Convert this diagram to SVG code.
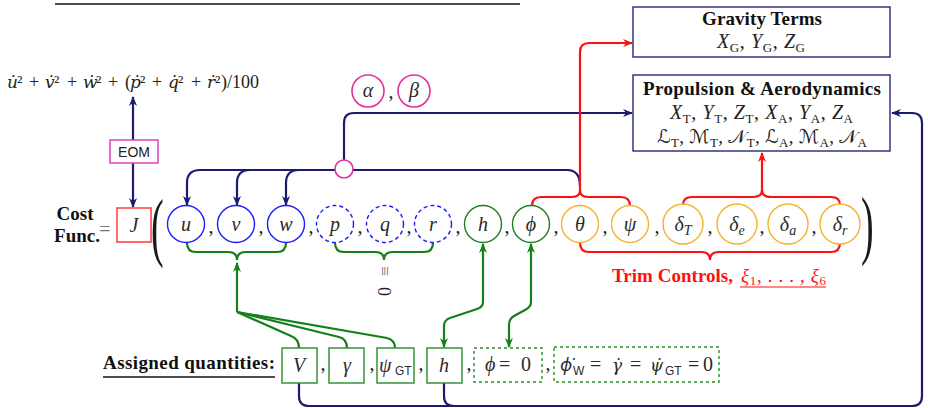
<svg xmlns="http://www.w3.org/2000/svg" width="928" height="408" viewBox="0 0 928 408">
  <style>
    .bg { fill: #ffffff; }
    .nv { stroke: #1c1c6e; stroke-width: 2.2; fill: none; }
    .rd { stroke: #ff1010; stroke-width: 2.2; fill: none; }
    .gr { stroke: #13801a; stroke-width: 2.2; fill: none; }
    .cb { stroke: #1a1aff; stroke-width: 1.4; fill: #ffffff; }
    .cbd { stroke: #1a1aff; stroke-width: 1.4; fill: #ffffff; stroke-dasharray: 4 3; }
    .cg { stroke: #1d7d1d; stroke-width: 1.4; fill: #ffffff; }
    .cy { stroke: #f3b32a; stroke-width: 1.4; fill: #ffffff; }
    .cm { stroke: #e0309c; stroke-width: 1.6; fill: #ffffff; }
    .bx { stroke: #262678; stroke-width: 1.4; fill: #ffffff; }
    .bg2 { stroke: #2a8a2a; stroke-width: 1.4; fill: #ffffff; }
    .bgd { stroke: #2a8a2a; stroke-width: 1.4; fill: #ffffff; stroke-dasharray: 3 3; }
    .serif { font-family: "Liberation Serif", "DejaVu Serif", serif; fill: #222222; }
    .math { font-family: "Liberation Serif", "DejaVu Serif", serif; font-style: italic; font-size: 20px; fill: #2a2a2a; }
    .bold { font-family: "Liberation Serif", "DejaVu Serif", serif; font-weight: bold; font-size: 19px; fill: #111111; }
    .it { font-style: italic; }
    .rm { font-style: normal; }
    .dv { font-family: "DejaVu Serif", serif; font-size: 17px; }
    .sub { font-style: normal; font-size: 13px; }
    .ssub { font-family: "Liberation Sans", "Open Sans", sans-serif; font-style: normal; font-size: 12px; }
    .cal { font-family: "DejaVu Serif", "DejaVu Sans", "Noto Sans", serif; font-style: normal; }
    .comma { font-family: "Liberation Serif", serif; font-size: 20px; fill: #222222; text-anchor: middle; }
  </style>
  <defs>
    <marker id="aN" viewBox="0 0 10 10" refX="9" refY="5" markerWidth="10" markerHeight="10" markerUnits="userSpaceOnUse" orient="auto-start-reverse">
      <path d="M0,1 L10,5 L0,9 L3,5 z" fill="#1c1c6e"/>
    </marker>
    <marker id="aR" viewBox="0 0 10 10" refX="9" refY="5" markerWidth="10" markerHeight="10" markerUnits="userSpaceOnUse" orient="auto-start-reverse">
      <path d="M0,1 L10,5 L0,9 L3,5 z" fill="#ff1010"/>
    </marker>
    <marker id="aG" viewBox="0 0 10 10" refX="9" refY="5" markerWidth="10" markerHeight="10" markerUnits="userSpaceOnUse" orient="auto-start-reverse">
      <path d="M0,1 L10,5 L0,9 L3,5 z" fill="#13801a"/>
    </marker>
  </defs>

  <rect class="bg" x="0" y="0" width="928" height="408"/>

  <!-- rule at the top -->
  <line x1="55" y1="4" x2="520" y2="4" stroke="#111111" stroke-width="1.4"/>

  <!-- cost expression from the equations of motion -->
  <g id="cost-expression" class="serif" font-size="18">
    <text y="88"><tspan class="it dv" x="7">u̇</tspan><tspan x="17">²</tspan><tspan x="29">+</tspan><tspan class="it dv" x="45">v̇</tspan><tspan x="54">²</tspan><tspan x="67">+</tspan><tspan class="it dv" x="83">ẇ</tspan><tspan x="96">²</tspan><tspan x="108">+</tspan><tspan x="125">(</tspan><tspan class="it dv" x="130">ṗ</tspan><tspan x="140">²</tspan><tspan x="152">+</tspan><tspan class="it dv" x="168">q̇</tspan><tspan x="178">²</tspan><tspan x="191">+</tspan><tspan class="it dv" x="207">ṙ</tspan><tspan x="215">²</tspan><tspan x="221">)/100</tspan></text>
  </g>

  <!-- connectors -->
  <g id="connectors">
    <!-- navy: EOM, alpha/beta junction, feedback -->
    <path class="nv" d="M133 140 V97" marker-end="url(#aN)"/>
    <path class="nv" d="M133 163 V207" marker-end="url(#aN)"/>
    <path class="nv" d="M336 170 H200 Q187 170 187 183 V205" marker-end="url(#aN)"/>
    <path class="nv" d="M250 170 Q237 170 237 183 V205" marker-end="url(#aN)"/>
    <path class="nv" d="M299 170 Q286 170 286 183 V205" marker-end="url(#aN)"/>
    <path class="nv" d="M353 170 H567 Q580 170 580 186"/>
    <path class="nv" d="M344 160 V123 Q344 113 354 113 H632" marker-end="url(#aN)"/>
    <path class="nv" d="M299 383 V396 Q299 406 309 406 H912 Q922 406 922 396 V123 Q922 113 912 113 H892" marker-end="url(#aN)"/>
    <path class="nv" d="M444 383 V396 Q444 406 454 406"/>

    <!-- red: Euler angles to gravity, controls to propulsion -->
    <path class="rd" d="M532 206 Q532 197 541 197 H572 Q580 197 580 190 Q580 197 588 197 H621 Q630 197 630 206"/>
    <path class="rd" d="M580 190 V52 Q580 43 589 43 H632" marker-end="url(#aR)"/>
    <path class="rd" d="M683 205 Q683 197 692 197 H753 Q762 197 762 190 Q762 197 771 197 H831 Q840 197 840 205"/>
    <path class="rd" d="M762 190 V153" marker-end="url(#aR)"/>
    <path class="rd" d="M580 243 Q580 252 589 252 H701 Q710 252 710 260 Q710 252 719 252 H831 Q840 252 840 243"/>

    <!-- green: braces and assigned quantities -->
    <path class="gr" d="M187 243 Q187 252 196 252 H228 Q237 252 237 260 Q237 252 246 252 H277 Q286 252 286 243"/>
    <path class="gr" d="M335 243 Q335 252 344 252 H375 Q384 252 384 260 Q384 252 393 252 H424 Q433 252 433 243"/>
    <path class="gr" d="M237 312 V263" marker-end="url(#aG)"/>
    <path class="gr" d="M237 312 L291 336 Q299 339 299 348"/>
    <path class="gr" d="M237 312 L339 337 Q347 339 347 348"/>
    <path class="gr" d="M237 312 L387 338 Q395 340 395 348"/>
    <path class="gr" d="M483 244 V302 Q483 307 477 309 L450 318 Q444 320 444 326 V347" marker-start="url(#aG)" marker-end="url(#aG)"/>
    <path class="gr" d="M531 244 V302 Q531 307 525 310 L514 316 Q509 319 509 325 V347" marker-start="url(#aG)" marker-end="url(#aG)"/>
  </g>

  <!-- force and moment boxes -->
  <g id="gravity-terms">
    <rect class="bx" x="633" y="7" width="257" height="50"/>
    <text class="bold" x="702" y="25" textLength="120">Gravity Terms</text>
    <text class="serif" x="717" y="48" font-size="20" textLength="88"><tspan class="it">X</tspan><tspan class="sub" dy="4">G</tspan><tspan dy="-4">, </tspan><tspan class="it">Y</tspan><tspan class="sub" dy="4">G</tspan><tspan dy="-4">, </tspan><tspan class="it">Z</tspan><tspan class="sub" dy="4">G</tspan></text>
  </g>

  <g id="propulsion-aerodynamics">
    <rect class="bx" x="633" y="75" width="257" height="76"/>
    <text class="bold" x="643" y="95" textLength="238">Propulsion &amp; Aerodynamics</text>
    <text class="serif" x="670" y="119" font-size="20" textLength="183"><tspan class="it">X</tspan><tspan class="sub" dy="4">T</tspan><tspan dy="-4">, </tspan><tspan class="it">Y</tspan><tspan class="sub" dy="4">T</tspan><tspan dy="-4">, </tspan><tspan class="it">Z</tspan><tspan class="sub" dy="4">T</tspan><tspan dy="-4">, </tspan><tspan class="it">X</tspan><tspan class="sub" dy="4">A</tspan><tspan dy="-4">, </tspan><tspan class="it">Y</tspan><tspan class="sub" dy="4">A</tspan><tspan dy="-4">, </tspan><tspan class="it">Z</tspan><tspan class="sub" dy="4">A</tspan></text>
    <text class="serif" x="657" y="143" font-size="19" textLength="210"><tspan class="cal">ℒ</tspan><tspan class="sub" dy="4">T</tspan><tspan dy="-4">, </tspan><tspan class="cal">ℳ</tspan><tspan class="sub" dy="4">T</tspan><tspan dy="-4">, </tspan><tspan class="cal">𝒩</tspan><tspan class="sub" dy="4">T</tspan><tspan dy="-4">, </tspan><tspan class="cal">ℒ</tspan><tspan class="sub" dy="4">A</tspan><tspan dy="-4">, </tspan><tspan class="cal">ℳ</tspan><tspan class="sub" dy="4">A</tspan><tspan dy="-4">, </tspan><tspan class="cal">𝒩</tspan><tspan class="sub" dy="4">A</tspan></text>
  </g>

  <!-- EOM and cost function -->
  <g id="eom">
    <rect x="110" y="140" width="48" height="23" fill="#ffffff" stroke="#e040c0" stroke-width="1.5"/>
    <text x="134" y="157" text-anchor="middle" font-family="Liberation Sans, Open Sans, sans-serif" font-size="14" fill="#222222">EOM</text>
  </g>

  <g id="cost-function">
    <text class="bold" x="75" y="220" text-anchor="middle" font-size="18">Cost</text>
    <text class="bold" x="77" y="242" text-anchor="middle" font-size="18">Func.</text>
    <text x="105" y="236" text-anchor="middle" font-family="Liberation Serif, serif" font-size="20" fill="#777777">=</text>
    <rect x="117" y="208" width="34" height="34" fill="#ffffff" stroke="#ff3a3a" stroke-width="1.5"/>
    <text class="math" x="134" y="232" text-anchor="middle">J</text>
  </g>

  <!-- parentheses around the state vector -->
  <text x="0" y="0" transform="translate(151 252) scale(0.5 1)" font-family="Liberation Serif, serif" font-size="76" fill="#1a1a1a">(</text>
  <text x="0" y="0" transform="translate(861 250) scale(0.5 1)" font-family="Liberation Serif, serif" font-size="76" fill="#1a1a1a">)</text>

  <!-- state circles -->
  <g id="u"><circle class="cb" cx="186" cy="224" r="18.5"/><text class="math" x="186" y="231" text-anchor="middle">u</text></g>
  <g id="v"><circle class="cb" cx="236" cy="224" r="18.5"/><text class="math" x="236" y="231" text-anchor="middle">v</text></g>
  <g id="w"><circle class="cb" cx="286" cy="224" r="18.5"/><text class="math" x="286" y="231" text-anchor="middle">w</text></g>
  <g id="p"><circle class="cbd" cx="335" cy="224" r="18.5"/><text class="math" x="335" y="231" text-anchor="middle">p</text></g>
  <g id="q"><circle class="cbd" cx="385" cy="224" r="18.5"/><text class="math" x="385" y="231" text-anchor="middle">q</text></g>
  <g id="r"><circle class="cbd" cx="433" cy="224" r="18.5"/><text class="math" x="433" y="231" text-anchor="middle">r</text></g>
  <g id="h"><circle class="cg" cx="483" cy="224" r="18.5"/><text class="math" x="483" y="231" text-anchor="middle">h</text></g>
  <g id="phi"><circle class="cg" cx="531" cy="224" r="18.5"/><text class="math" x="531" y="231" text-anchor="middle">ϕ</text></g>
  <g id="theta"><circle class="cy" cx="580" cy="224" r="18.5"/><text class="math" x="580" y="231" text-anchor="middle">θ</text></g>
  <g id="psi"><circle class="cy" cx="630" cy="224" r="18.5"/><text class="math" x="630" y="231" text-anchor="middle">ψ</text></g>
  <g id="delta-T"><circle class="cy" cx="683" cy="224" r="20"/><text class="math" x="683" y="231" text-anchor="middle">δ<tspan font-size="14" dy="4">T</tspan></text></g>
  <g id="delta-e"><circle class="cy" cx="737" cy="224" r="20"/><text class="math" x="737" y="231" text-anchor="middle">δ<tspan font-size="14" dy="4">e</tspan></text></g>
  <g id="delta-a"><circle class="cy" cx="788" cy="224" r="20"/><text class="math" x="788" y="231" text-anchor="middle">δ<tspan font-size="14" dy="4">a</tspan></text></g>
  <g id="delta-r"><circle class="cy" cx="840" cy="224" r="20"/><text class="math" x="840" y="231" text-anchor="middle">δ<tspan font-size="14" dy="4">r</tspan></text></g>

  <!-- separators between the states -->
  <g class="comma">
    <text x="211" y="233">,</text><text x="261" y="233">,</text><text x="311" y="233">,</text>
    <text x="360" y="233">,</text><text x="409" y="233">,</text><text x="458" y="233">,</text>
    <text x="507" y="233">,</text><text x="556" y="233">,</text><text x="605" y="233">,</text>
    <text x="657" y="233">,</text><text x="710" y="233">,</text><text x="762" y="233">,</text>
    <text x="814" y="233">,</text>
  </g>

  <!-- p, q, r identically zero -->
  <g id="pqr-zero">
    <text transform="translate(379 266) rotate(90)" font-family="Liberation Serif, serif" font-size="18" fill="#777777">≡</text>
    <text transform="translate(378 287) rotate(90)" font-family="Liberation Serif, serif" font-size="18" fill="#222222">0</text>
  </g>

  <!-- aerodynamic angles -->
  <g id="alpha"><circle class="cm" cx="368" cy="91" r="16"/><text class="math" x="368" y="97" text-anchor="middle">α</text></g>
  <text class="comma" x="391" y="98">,</text>
  <g id="beta"><circle class="cm" cx="414" cy="91" r="16"/><text class="math" x="414" y="97" text-anchor="middle" fill="#777777">β</text></g>
  <g id="junction"><circle class="cm" cx="344" cy="169" r="9"/></g>

  <!-- trim controls label -->
  <g id="trim-controls">
    <text x="612" y="282" font-family="Liberation Serif, serif" font-size="19" font-weight="bold" fill="#ff1010" textLength="121">Trim Controls,</text>
    <text x="741" y="282" font-family="Liberation Serif, serif" font-size="19" font-style="italic" fill="#ff1010" textLength="85">ξ<tspan font-size="13" font-style="normal" dy="3">1</tspan><tspan font-style="normal" dy="-3">, . . . , </tspan>ξ<tspan font-size="13" font-style="normal" dy="3">6</tspan></text>
    <line x1="740" y1="287" x2="826" y2="287" stroke="#ff1010" stroke-width="1.2"/>
  </g>

  <!-- assigned quantities -->
  <g id="assigned-label">
    <text class="bold" x="103" y="369" textLength="172">Assigned quantities:</text>
    <line x1="103" y1="377" x2="275" y2="377" stroke="#111111" stroke-width="1.3"/>
  </g>
  <g id="V"><rect class="bg2" x="282" y="348" width="35" height="35"/><text class="math" x="299" y="372" text-anchor="middle">V</text></g>
  <g id="gamma"><rect class="bg2" x="329" y="348" width="35" height="35"/><text class="math" x="347" y="372" text-anchor="middle">γ</text></g>
  <g id="psi-GT"><rect class="bg2" x="377" y="348" width="37" height="35"/><text class="math" y="372"><tspan x="379">ψ</tspan><tspan class="ssub" x="395" y="375">GT</tspan></text></g>
  <g id="h-assigned"><rect class="bg2" x="427" y="348" width="35" height="35"/><text class="math" x="444" y="372" text-anchor="middle">h</text></g>
  <g id="phi-zero"><rect class="bgd" x="474" y="348" width="68" height="34"/><text class="math" y="371"><tspan x="485">ϕ</tspan><tspan class="rm" x="499">=</tspan><tspan class="rm" x="521">0</tspan></text></g>
  <g id="rates-zero">
    <rect class="bgd" x="554" y="347" width="165" height="35"/>
    <text class="math" y="371"><tspan font-family="Noto Sans, DejaVu Serif, serif" font-size="18" x="560">ϕ̇</tspan><tspan class="ssub" x="573" y="375">W</tspan><tspan class="rm" x="590" y="371">=</tspan><tspan class="dv" font-size="19" x="612">γ̇</tspan><tspan class="rm" x="630">=</tspan><tspan class="dv" font-size="19" x="650">ψ̇</tspan><tspan class="ssub" x="665" y="375">GT</tspan><tspan class="rm" x="688" y="371">=</tspan><tspan class="rm" x="703">0</tspan></text>
  </g>
  <g class="comma">
    <text x="323" y="370">,</text><text x="372" y="370">,</text><text x="421" y="370">,</text>
    <text x="469" y="370">,</text><text x="548" y="370">,</text>
  </g>
</svg>
